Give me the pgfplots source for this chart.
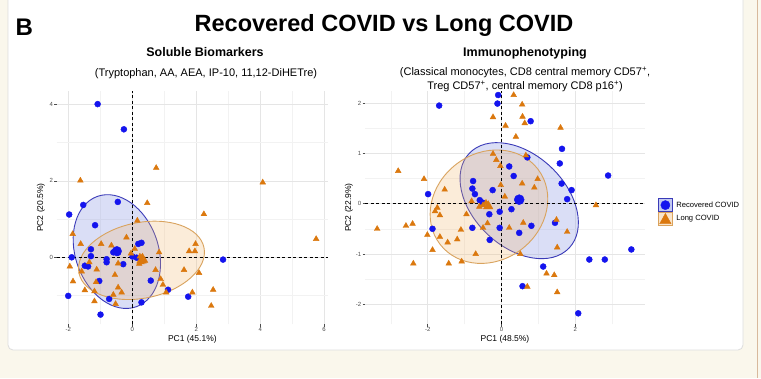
\documentclass[border=0pt]{standalone}
\usepackage{fontspec}
\setmainfont{Liberation Sans}
\usepackage{pgfplots}
\pgfplotsset{compat=1.18}
\definecolor{bg}{HTML}{FAF7EC}
\definecolor{cardline}{HTML}{DDDDDD}
\definecolor{tanline}{HTML}{D8B99C}
\definecolor{ptblue}{HTML}{1414EE}
\definecolor{ptorange}{HTML}{DB780E}
\definecolor{blueedge}{HTML}{3A3AB8}
\definecolor{bluefill}{HTML}{7C8CE0}
\definecolor{orangeedge}{HTML}{D9A35E}
\definecolor{orangefill}{HTML}{F2B66A}
\definecolor{tickgray}{HTML}{4D4D4D}

\pgfplotstableread{
x y
-1.08 4.01
-0.26 3.35
-0.45 1.45
-1.53 1.37
-1.97 1.12
-1.16 0.84
0.29 0.38
0.19 0.35
-1.29 0.21
-1.29 0.03
-1.89 0.00
-0.59 0.13
-0.45 0.12
-0.80 -0.05
-0.80 -0.13
-0.28 -0.18
0.01 0.02
0.14 -0.01
-1.48 -0.22
-1.38 -0.24
-1.03 -0.62
0.58 -0.61
1.12 -0.85
2.84 -0.06
1.75 -1.03
0.29 -1.18
-0.72 -1.09
-0.99 -1.50
-2.00 -1.01
}\leftblue

\pgfplotstableread{
x y
0.75 2.34
-1.62 2.01
4.08 1.96
0.47 1.42
2.24 1.13
0.16 0.96
-1.86 0.61
-0.18 0.52
5.75 0.48
-1.61 0.35
-0.97 0.35
-0.65 0.31
1.98 0.35
0.08 0.22
0.84 0.13
1.78 0.16
1.96 0.16
-0.04 0.10
0.24 0.02
0.32 0.02
0.40 -0.09
0.29 -0.13
0.22 -0.17
-1.34 -0.13
-0.44 -0.16
-1.95 -0.24
-1.58 -0.37
-1.11 -0.32
-0.54 -0.46
0.73 -0.33
1.62 -0.33
2.09 -0.41
-1.85 -0.63
0.89 -0.57
0.96 -0.72
-1.13 -0.65
-1.48 -0.86
-0.44 -0.79
-0.33 -0.92
-1.18 -0.89
-0.59 -0.98
2.53 -0.85
1.88 -0.92
1.06 -0.92
-1.18 -1.15
-0.52 -1.22
2.47 -1.27
}\leftorange

\pgfplotstableread{
x y
-1.69 1.95
-0.09 2.16
-0.11 1.99
0.79 1.64
1.64 1.09
1.58 0.80
1.63 0.40
1.90 0.27
1.78 0.09
2.89 0.56
0.70 0.92
0.21 0.74
0.33 0.55
-1.99 0.19
-0.77 0.45
-0.79 0.30
-0.72 0.19
-0.24 0.27
-0.59 0.07
-0.51 0.02
0.27 -0.11
-0.05 -0.16
-0.33 -0.21
-0.79 -0.48
-0.05 -0.48
0.48 -0.58
0.81 -0.44
1.45 -0.38
-1.87 -0.50
-0.32 -0.72
2.38 -1.11
2.80 -1.11
3.52 -0.91
1.13 -1.25
0.57 -1.64
2.08 -2.18
}\rightblue

\pgfplotstableread{
x y
0.33 2.16
0.56 1.97
-0.23 1.72
0.57 1.73
0.63 1.60
0.11 1.55
1.60 1.51
0.39 1.33
0.66 0.96
-0.23 0.99
-0.14 0.87
-0.03 0.75
-2.80 0.65
-2.10 0.49
0.98 0.49
-1.54 0.28
0.56 0.40
-0.02 0.37
0.89 0.32
0.09 0.14
-0.81 0.05
-0.50 -0.03
-0.42 0.02
-0.60 -0.06
2.56 -0.03
-1.74 -0.08
-1.80 -0.15
-0.95 -0.21
-1.67 -0.23
-3.37 -0.50
-2.59 -0.44
-2.41 -0.40
-0.38 -0.39
0.21 -0.48
0.59 -0.38
-0.50 -0.48
-1.10 -0.52
-2.01 -0.62
-1.67 -0.66
-1.20 -0.71
-1.46 -0.77
1.78 -0.56
1.49 -0.32
-1.87 -0.92
1.51 -0.87
-0.70 -1.00
0.51 -1.00
-1.08 -1.15
-1.43 -1.19
-2.39 -1.19
1.22 -1.39
1.43 -1.42
0.70 -1.65
1.51 -1.76
}\rightorange

\pgfplotsset{
  pcastyle/.style={
    scale only axis, anchor=south west,
    axis line style={draw=none},
    tick align=outside, tick pos=left,
    major tick length=2.5pt, minor tick length=0pt,
    tick style={draw=tickgray, line width=0.5pt},
    grid=both,
    major grid style={draw=black!10, line width=0.5pt},
    minor grid style={draw=black!5, line width=0.4pt},
    ticklabel style={font=\fontsize{6}{7}\selectfont, text=tickgray, inner sep=1pt},
    /pgf/number format/assume math mode=true,
    label style={font=\fontsize{8.5}{10}\selectfont},
    xlabel style={at={(axis description cs:0.5,-0.0665)}, anchor=center},
    clip=true,
  },
  bluepts/.style={only marks, mark=*, mark size=3pt, ptblue, mark options={draw=ptblue, fill=ptblue}, forget plot},
  orangepts/.style={only marks, mark=triangle*, mark size=3.3pt, ptorange, mark options={draw=ptorange, fill=ptorange}, forget plot},
  zeroline/.style={black, line width=1.1pt, dash pattern=on 3pt off 2.5pt, forget plot},
}

\begin{document}
\begin{tikzpicture}
\useasboundingbox (0pt,0pt) rectangle (761pt,378pt);
\fill[bg] (0pt,0pt) rectangle (761pt,378pt);
\draw[cardline, fill=white, rounded corners=5pt, line width=0.8pt] (8pt,28pt) rectangle (743pt,395pt);
\draw[tanline, line width=1pt] (757pt,0pt) -- (757pt,378pt);

\node[anchor=base west, font=\fontsize{24}{28}\selectfont\bfseries] at (12pt,342pt) {B};
\node[anchor=base, font=\fontsize{23.5}{28}\selectfont\bfseries] at (384pt,346.5pt) {Recovered COVID vs Long COVID};
\node[anchor=base, font=\fontsize{12.5}{15}\selectfont\bfseries] at (205pt,321pt) {Soluble Biomarkers};
\node[anchor=base, font=\fontsize{11}{13}\selectfont] at (206pt,301pt) {(Tryptophan, AA, AEA, IP-10, 11,12-DiHETre)};
\node[anchor=base, font=\fontsize{12.5}{15}\selectfont\bfseries] at (525pt,321pt) {Immunophenotyping};
\node[anchor=base, font=\fontsize{11}{13}\selectfont] at (525pt,302.5pt) {(Classical monocytes, CD8 central memory CD57\textsuperscript{+},};
\node[anchor=base, font=\fontsize{11}{13}\selectfont] at (525pt,288.5pt) {Treg CD57\textsuperscript{+}, central memory CD8 p16\textsuperscript{+})};

% Left panel
\begin{axis}[pcastyle,
  at={(56.7pt,54pt)}, width=271.3pt, height=233pt,
  xmin=-2.36, xmax=6.12, ymin=-1.746, ymax=4.353,
  xtick={-2,0,2,4,6}, minor xtick={-1,1,3,5},
  ytick={0,2,4}, minor ytick={-1,1,3},
  xlabel={PC1 (45.1\%)}, ylabel={PC2 (20.5\%)},
  ylabel style={at={(axis description cs:-0.058,0.5)}, anchor=center},
]
\draw[blueedge, line width=0.9pt, fill=bluefill, fill opacity=0.28, rotate around={19.3:(axis cs:-0.48,0.15)}] (axis cs:-0.48,0.15) ellipse [x radius=41.5pt, y radius=58.5pt];
\draw[orangeedge, line width=0.9pt, fill=orangefill, fill opacity=0.25, rotate around={11.5:(axis cs:0.29,-0.08)}] (axis cs:0.29,-0.08) ellipse [x radius=63.8pt, y radius=37.8pt];
\addplot[zeroline] coordinates {(0,-1.746) (0,4.353)};
\addplot[zeroline] coordinates {(-2.36,0) (6.12,0)};
\addplot[bluepts] table[x=x,y=y] {\leftblue};
\addplot[orangepts] table[x=x,y=y] {\leftorange};
\addplot[bluepts, mark size=4.8pt] coordinates {(-0.48,0.16)};
\addplot[orangepts, mark size=5.5pt] coordinates {(0.29,-0.08)};
\end{axis}

% Right panel
\begin{axis}[pcastyle,
  at={(365pt,54pt)}, width=280pt, height=233pt,
  xmin=-3.70, xmax=3.89, ymin=-2.392, ymax=2.240,
  xtick={-2,0,2}, minor xtick={-3,-1,1,3},
  ytick={-2,-1,0,1,2}, minor ytick={-1.5,-0.5,0.5,1.5},
  xlabel={PC1 (48.5\%)}, ylabel={PC2 (22.9\%)},
  ylabel style={at={(axis description cs:-0.057,0.5)}, anchor=center},
  legend style={at={(1.0464,0.4806)}, anchor=west, draw=none, fill=none,
    font=\fontsize{7.6}{9}\selectfont, inner sep=0pt, outer sep=0pt,
    row sep=0pt, column sep=3pt, nodes={inner sep=0.5pt}},
  legend cell align=left,
]
\draw[blueedge, line width=0.9pt, fill=bluefill, fill opacity=0.28, rotate around={-43.5:(axis cs:0.48,0.06)}] (axis cs:0.48,0.06) ellipse [x radius=68.8pt, y radius=46.2pt];
\draw[orangeedge, line width=0.9pt, fill=orangefill, fill opacity=0.25, rotate around={37.5:(axis cs:-0.34,-0.06)}] (axis cs:-0.34,-0.06) ellipse [x radius=61.7pt, y radius=53.6pt];
\addplot[zeroline] coordinates {(0,-2.392) (0,2.240)};
\addplot[zeroline] coordinates {(-3.70,0) (3.89,0)};
\addplot[bluepts] table[x=x,y=y] {\rightblue};
\addplot[orangepts] table[x=x,y=y] {\rightorange};
\addplot[bluepts, mark size=5pt] coordinates {(0.48,0.08)};
\addplot[orangepts, mark size=5.5pt] coordinates {(-0.36,-0.05)};
\addlegendimage{legend image code/.code={
  \draw[blueedge, fill=bluefill!45, line width=0.8pt] (0pt,-6.5pt) rectangle (14pt,6.5pt);
  \fill[ptblue] (7pt,0pt) circle (4.6pt);}}
\addlegendentry{Recovered COVID}
\addlegendimage{legend image code/.code={
  \draw[orangeedge, fill=orangefill!35, line width=0.8pt] (0pt,-6.5pt) rectangle (14pt,6.5pt);
  \fill[ptorange] (7pt,5.5pt) -- (1.3pt,-4.8pt) -- (12.7pt,-4.8pt) -- cycle;}}
\addlegendentry{Long COVID}
\end{axis}
\end{tikzpicture}
\end{document}
